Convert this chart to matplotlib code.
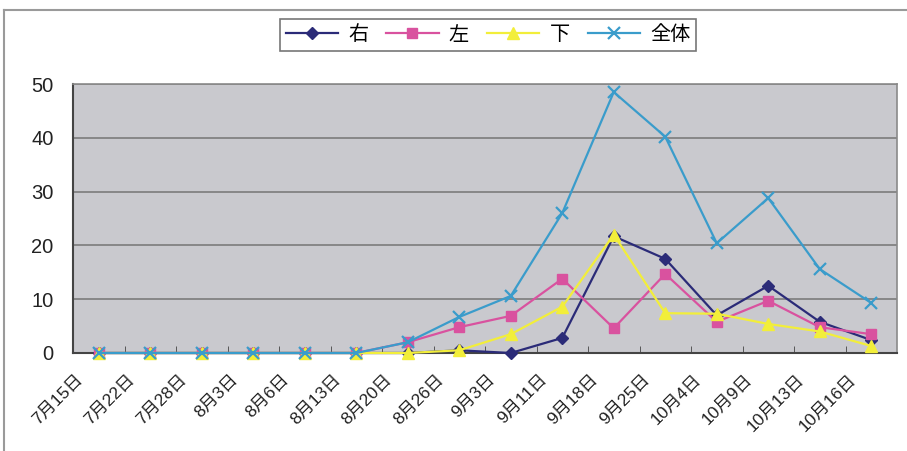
import numpy as np
import matplotlib.pyplot as plt
from matplotlib.lines import Line2D
from matplotlib.transforms import ScaledTranslation

plt.rcParams['font.family'] = ['Liberation Sans', 'Noto Sans CJK JP', 'DejaVu Sans']

dates = ['7月15日', '7月22日', '7月28日', '8月3日', '8月6日', '8月13日', '8月20日', '8月26日',
         '9月3日', '9月11日', '9月18日', '9月25日', '10月4日', '10月9日', '10月13日', '10月16日']
migi = [0, 0, 0, 0, 0, 0, 0, 0.5, 0, 2.8, 21.7, 17.5, 7.0, 12.5, 5.8, 2.4]
hidari = [0, 0, 0, 0, 0, 0, 2.0, 4.8, 6.9, 13.8, 4.6, 14.7, 5.8, 9.7, 4.8, 3.5]
shita = [0, 0, 0, 0, 0, 0, 0, 0.5, 3.5, 8.6, 22.0, 7.4, 7.3, 5.4, 4.0, 1.3]
zentai = [0, 0, 0, 0, 0, 0, 2.0, 6.7, 10.6, 26.0, 48.5, 40.2, 20.4, 28.8, 15.6, 9.3]

fig = plt.figure(figsize=(9.07, 4.51), dpi=100)
ax = fig.add_axes([73/907, 1-353/451, 824/907, 269/451])
ax.set_facecolor('#c9c9ce')

x = np.arange(len(dates))
ax.plot(x, migi, color='#2b2b78', marker='D', ms=6, lw=1.6, label='右', clip_on=False, zorder=3)
ax.plot(x, hidari, color='#d9529f', marker='s', ms=7, lw=1.6, label='左', clip_on=False, zorder=3)
ax.plot(x, shita, color='#f2ee3a', marker='^', ms=8, lw=1.6, label='下', clip_on=False, zorder=3)
ax.plot(x, zentai, color='#3a9ccb', marker='x', ms=9, mew=1.6, lw=1.6, label='全体', clip_on=False, zorder=3)

ax.set_xlim(-0.5, len(dates)-0.5)
ax.set_ylim(0, 50)
ax.set_yticks(range(0, 51, 10))
ax.yaxis.grid(True, color='#7c7c7c', lw=1.2)
ax.set_axisbelow(True)
ax.tick_params(axis='y', length=0, pad=14, labelsize=14.5, colors='#222222')

# category labels at centres, boundary ticks as minor ticks
ax.set_xticks(x)
ax.set_xticklabels(dates, rotation=45, ha='right', va='center', rotation_mode='anchor', fontsize=12.5)
ax.set_xticks(x[:-1] + 0.5, minor=True)
ax.tick_params(axis='x', which='major', length=0, pad=17, colors='#222222')
ax.tick_params(axis='x', which='minor', direction='in', length=5, color='#444444')
shift = ScaledTranslation(-0.18, 0, fig.dpi_scale_trans)
for lab in ax.get_xticklabels():
    lab.set_transform(lab.get_transform() + shift)

for s in ['left', 'bottom']:
    ax.spines[s].set_color('#444444')
    ax.spines[s].set_linewidth(1.5)
for s in ['top', 'right']:
    ax.spines[s].set_color('#8a8a8a')
    ax.spines[s].set_linewidth(1.2)

leg = fig.legend(loc='center', bbox_to_anchor=(488/907, 1-35/451), ncol=4, fontsize=14.5,
                 frameon=True, fancybox=False, edgecolor='#555555', handlelength=2.6,
                 handletextpad=0.5, columnspacing=0.9, borderpad=0.3)
leg.get_frame().set_linewidth(1.2)

# outer chart border
fig.add_artist(Line2D([4/907, 1], [1-10/451, 1-10/451], color='#9a9a9a', lw=1.5, transform=fig.transFigure))
fig.add_artist(Line2D([4/907, 4/907], [0, 1-10/451], color='#9a9a9a', lw=1.5, transform=fig.transFigure))

fig.savefig('out.png', dpi=100)
